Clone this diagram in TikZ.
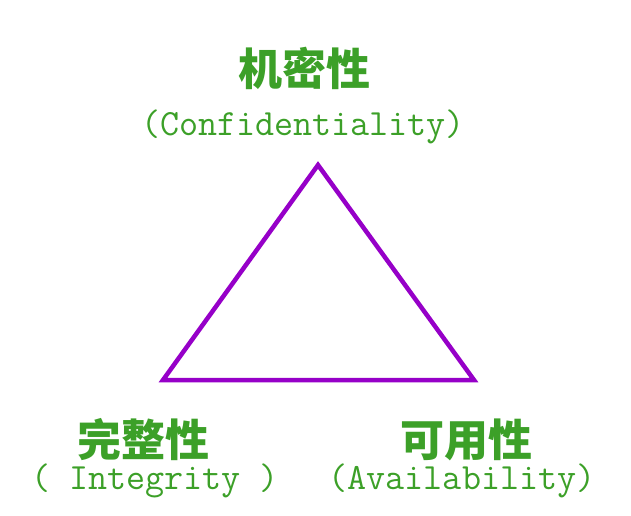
\documentclass[tikz,border=0pt]{standalone}
\usepackage{fontspec}
\newfontfamily\cjk{Noto Sans CJK SC}
\definecolor{cianame}{RGB}{60,160,40}
\definecolor{ciaedge}{RGB}{150,0,200}
\tikzset{zh/.style={text=cianame,font=\cjk\bfseries\fontsize{44}{46}\selectfont},
         en/.style={text=cianame,font=\ttfamily\fontsize{37}{39}\selectfont}}
\begin{document}
\begin{tikzpicture}[x=1pt,y=-1pt]
    \useasboundingbox (0,0) rectangle (631,516);
    \coordinate (C) at (318,165);
    \coordinate (I) at (163,380);
    \coordinate (A) at (474,380);
    \draw[ciaedge,line width=4.5pt,line join=miter] (C) -- (I) -- (A) -- cycle;

    \node[zh] (conf)    at (304,68)  {机密性};
    \node[en] (confen)  at (303,127) {(Confidentiality)};
    \node[zh] (integ)   at (143,440) {完整性};
    \node[en] (integen) at (155,481) {( Integrity )};
    \node[zh] (avail)   at (466,440) {可用性};
    \node[en] (availen) at (462,481) {(Availability)};
\end{tikzpicture}
\end{document}
